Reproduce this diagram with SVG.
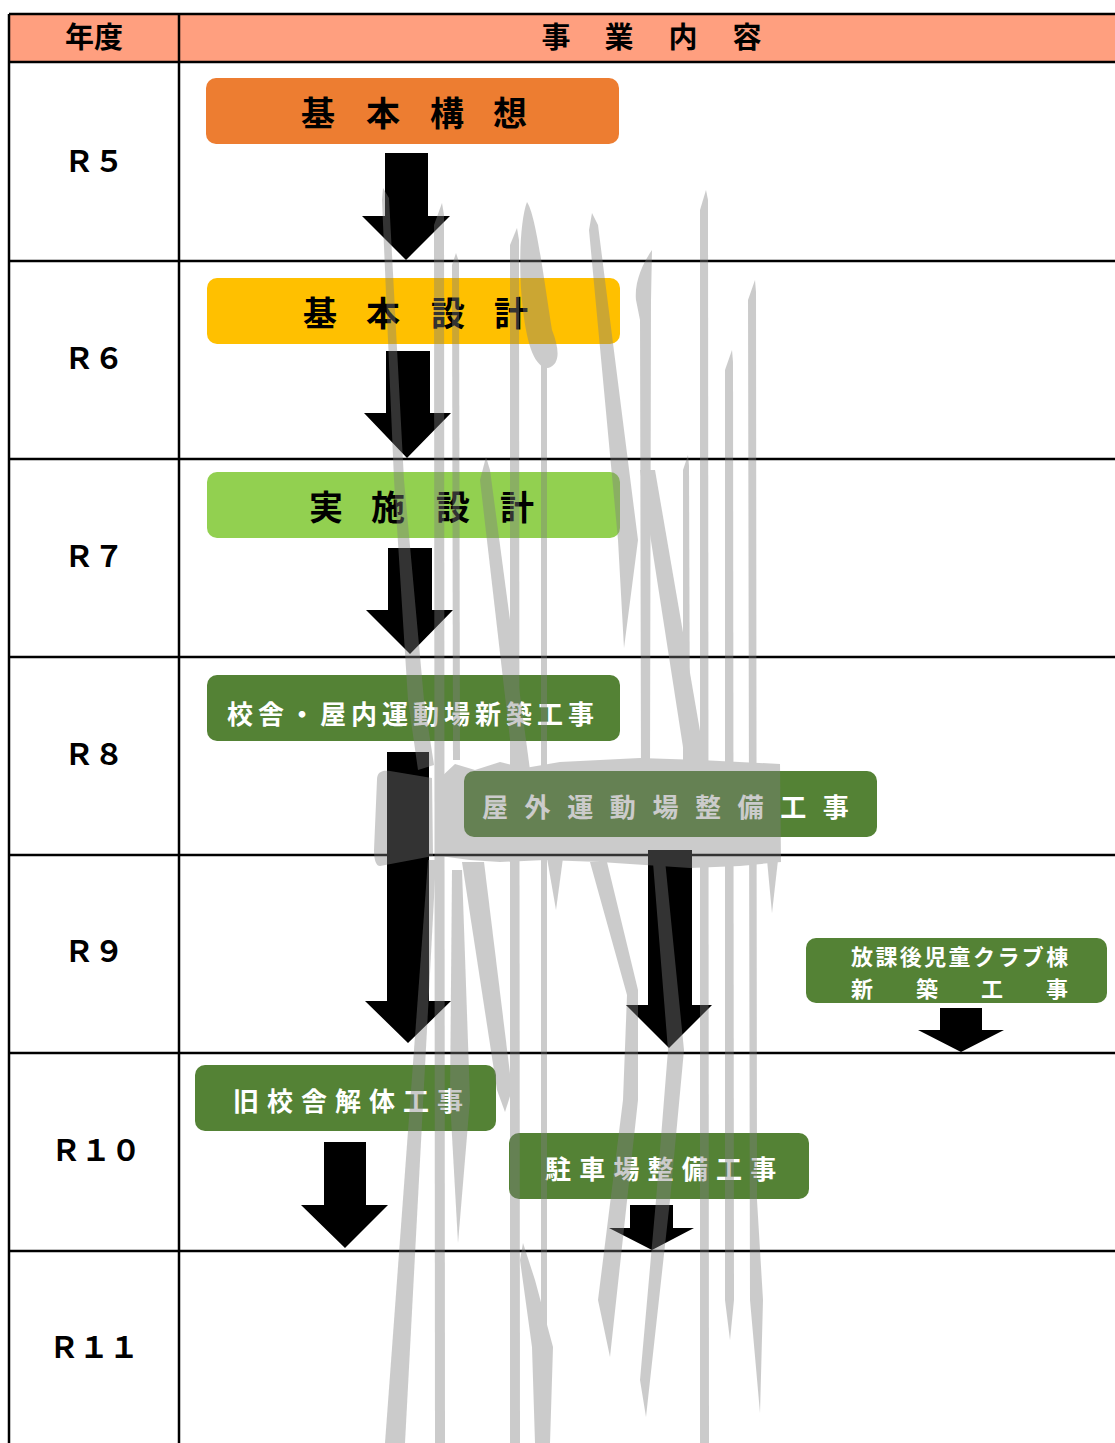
<svg xmlns="http://www.w3.org/2000/svg" width="1115" height="1443" viewBox="0 0 1115 1443">
<style>
.grid{stroke:#000;stroke-width:2.5;fill:none}
.hd{font-family:"Noto Sans CJK JP","Noto Sans",sans-serif;font-weight:bold;font-size:29px;fill:#000}
.yr{font-family:"Noto Sans CJK JP","Noto Sans",sans-serif;font-weight:bold;font-size:30px;fill:#000;text-anchor:middle}
.big{font-family:"Noto Sans CJK JP",sans-serif;font-weight:bold;font-size:34px;fill:#000;text-anchor:middle}
.wt{font-family:"Noto Sans CJK JP",sans-serif;font-weight:bold;font-size:26px;fill:#fff}
.ws{font-family:"Noto Sans CJK JP",sans-serif;font-weight:bold;font-size:22px;fill:#fff}
.arr{fill:#000}
.g{fill:#548235}
.wm path{fill:#808080}
</style>
<rect x="0" y="0" width="1115" height="1443" fill="#fff"/>
<g id="table">
<rect x="9" y="14" width="1106" height="48" fill="#FF9F7F"/>
<path class="grid" d="M9,14H1115M9,62H1115M9,261H1115M9,459H1115M9,657H1115M9,855H1115M9,1053H1115M9,1251H1115M9,14V1443M179,14V1443"/>
<text class="hd" x="94" y="48" text-anchor="middle">年度</text>
<text class="hd" x="556 619 683 747" y="48" text-anchor="middle">事業内容</text>
<text class="yr" x="94" y="172">Ｒ５</text>
<text class="yr" x="94" y="369">Ｒ６</text>
<text class="yr" x="94" y="567">Ｒ７</text>
<text class="yr" x="94" y="765">Ｒ８</text>
<text class="yr" x="94" y="962">Ｒ９</text>
<text class="yr" x="96" y="1161">Ｒ１０</text>
<text class="yr" x="94" y="1358">Ｒ１１</text>
</g>
<g id="node-kihon-koso">
<rect x="206" y="78" width="413" height="66" rx="10" fill="#ED7D31"/>
<text class="big" x="318 383 447 510" y="126">基本構想</text>
</g>
<g id="node-kihon-sekkei">
<rect x="207" y="278" width="413" height="66" rx="10" fill="#FFC000"/>
<text class="big" x="320 383 448 511" y="326">基本設計</text>
</g>
<g id="node-jisshi-sekkei">
<rect x="207" y="472" width="413" height="66" rx="10" fill="#92D050"/>
<text class="big" x="326 388 453 517" y="520">実施設計</text>
</g>
<g id="node-kosha">
<rect class="g" x="207" y="675" width="413" height="66" rx="10"/>
<text class="wt" x="227" y="724" letter-spacing="5">校舎・屋内運動場新築工事</text>
</g>
<g id="node-okugai">
<rect class="g" x="464" y="771" width="413" height="66" rx="10"/>
<text class="wt" x="482" y="817" letter-spacing="16.6">屋外運動場整備工事</text>
</g>
<g id="node-hokago">
<rect class="g" x="806" y="938" width="301" height="65" rx="10"/>
<text class="ws" x="851" y="965" letter-spacing="2.4">放課後児童クラブ棟</text>
<text class="ws" x="862 927 992 1057" y="997" text-anchor="middle">新築工事</text>
</g>
<g id="node-kaitai">
<rect class="g" x="195" y="1065" width="301" height="66" rx="10"/>
<text class="wt" x="233" y="1111" letter-spacing="8">旧校舎解体工事</text>
</g>
<g id="node-chushajo">
<rect class="g" x="509" y="1133" width="300" height="66" rx="10"/>
<text class="wt" x="545" y="1179" letter-spacing="8.2">駐車場整備工事</text>
</g>
<g id="connectors">
<path class="arr" d="M385,153H428V216H450L406,260L362,216H385Z"/>
<path class="arr" d="M386,351H430V413H451L407,458L364,413H386Z"/>
<path class="arr" d="M388,548H432V610H453L410,654L366,610H388Z"/>
<path class="arr" d="M387,752H429V1001H451L408,1043L365,1001H387Z"/>
<path class="arr" d="M648,850H692V1005H712L669,1048L626,1005H648Z"/>
<path class="arr" d="M940,1008H982V1030H1004L961,1052L918,1030H940Z"/>
<path class="arr" d="M324,1142H366V1205H388L345,1248L301,1205H324Z"/>
<path class="arr" d="M630,1205H673V1228H694L652,1250L609,1228H630Z"/>
</g>
<g id="watermark" class="wm" opacity="0.4">
<path d="M383,188L389,198L404,480L424,700L434,765L418,770L408,700L394,480L382,200Z"/>
<path d="M377,780C377,772 382,770 390,771L432,778L433,856L380,866C376,866 374,860 374,850Z"/>
<path d="M440,778L455,764L475,770L500,762L525,768L560,762L640,758L700,760L780,764L781,862L740,866L690,868L600,862L545,860L500,862L470,860L440,856Z"/>
<path d="M442,203L444,215L445,1443L435,1443L434,225Z"/>
<path d="M456,253L459,262L460,760L453,760L452,265Z"/>
<path d="M486,457L490,470L534,800L517,800L480,480Z"/>
<path d="M517,228L519,240L520,1443L510,1443L510,245Z"/>
<path d="M527,202C536,215 544,280 552,330C560,350 560,365 548,368C535,368 527,345 523,310C518,270 520,220 527,202Z"/>
<path d="M541,360L547,360L547,1443L541,1443Z"/>
<path d="M592,213L598,225L638,540L624,648L618,540L589,230Z"/>
<path d="M640,470L655,470L705,760L685,760Z"/>
<path d="M652,250C645,260 634,280 636,300L640,320L641,770L650,770L651,300Z"/>
<path d="M706,190L708,200L709,1443L700,1443L700,210Z"/>
<path d="M732,350L733,362L734,1300L730,1340L725,1300L725,370Z"/>
<path d="M755,280L756,292L757,1200L763,1300L760,1413L750,1300L748,300Z"/>
<path d="M688,455L689,466L690,760L683,760L683,470Z"/>
<path d="M428,860L436,860L405,1443L385,1443Z"/>
<path d="M462,862L484,862L512,1090L505,1112L497,1090Z"/>
<path d="M452,870L462,870L470,1100L458,1243L450,1100Z"/>
<path d="M523,1243L535,1280L553,1347L550,1443L535,1443L532,1347L520,1260Z"/>
<path d="M547,858L563,858L556,910Z"/>
<path d="M590,862L607,862L638,990L638,1100L610,1357L598,1300L623,1100L627,995Z"/>
<path d="M652,850L664,850L684,1050L670,1200L646,1417L640,1380L656,1200L668,1050Z"/>
<path d="M767,860L778,860L772,913Z"/>
</g>
</svg>
